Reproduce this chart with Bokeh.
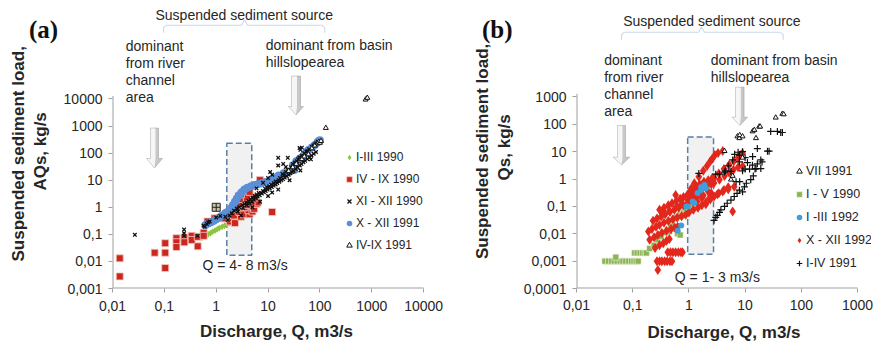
import math
from bokeh.plotting import figure
from bokeh.layouts import row
from bokeh.models import Range1d, FixedTicker, Label, PolyAnnotation, Legend, LegendItem
from bokeh.embed import file_html
from bokeh.resources import INLINE

SANS = "Liberation Sans"
SERIF = "Liberation Serif"
TXT = "#262626"
AXC = "#a0a0a0"

# ---------------- panel (a) data ----------------
a_x_ticks = [0.01, 0.1, 1, 10, 100, 1000, 10000]
a_x_labels = ["0,01", "0,1", "1", "10", "100", "1000", "10000"]
a_y_ticks = [0.001, 0.01, 0.1, 1, 10, 100, 1000, 10000]
a_y_labels = ["0,001", "0,01", "0,1", "1", "10", "100", "1000", "10000"]

a_series = ["I-III 1990", "IV - IX 1990", "XI - XII 1990", "X - XII 1991", "IV-IX 1991"]

a_green_q = [0.53, 0.58, 0.63, 0.7, 0.77, 0.85, 0.95, 1.05, 1.15, 1.3, 1.45, 1.6, 1.8, 2.0, 2.3, 2.6, 3.0, 3.5, 4.1, 4.8]
a_green_s = [0.075, 0.082, 0.09, 0.1, 0.11, 0.125, 0.14, 0.155, 0.17, 0.19, 0.21, 0.23, 0.26, 0.29, 0.33, 0.37, 0.43, 0.5, 0.56, 0.62]

a_red_q = [0.0138, 0.0138, 0.065, 0.104, 0.104, 0.104, 0.171, 0.171, 0.171, 0.243,
           0.243, 0.337, 0.337, 0.44, 0.44, 0.573, 0.573, 0.68, 0.93, 1.37,
           1.49, 1.85, 2.0, 2.3, 2.2, 3.0, 2.3, 2.8, 3.35, 4.4,
           4.2, 5.0, 3.5, 5.2, 5.4, 6.0, 6.3, 4.8, 4.0, 3.6,
           2.5, 2.69, 2.69, 3.1, 3.9, 3.0, 5.6, 4.4, 6.97, 12.0]
a_red_s = [0.013, 0.0028, 0.021, 0.047, 0.021, 0.0057, 0.072, 0.051, 0.034, 0.076,
           0.051, 0.088, 0.062, 0.081, 0.036, 0.115, 0.088, 0.30, 0.39, 0.39,
           0.39, 0.30, 0.39, 0.26, 0.5, 0.45, 0.88, 0.67, 0.55, 0.55,
           0.78, 0.7, 1.0, 1.0, 0.88, 1.33, 1.5, 1.5, 1.2, 1.6,
           1.8, 1.33, 2.62, 2.0, 2.3, 3.0, 2.3, 3.7, 10.1, 0.67]

a_black_q = [0.027, 0.24, 0.24, 0.24, 0.44, 0.57, 0.6, 0.66, 0.7, 0.75,
             1.0, 1.2, 1.5, 1.67, 1.8, 2.0, 2.2, 2.5, 2.8, 3.0,
             3.2, 3.5, 3.8, 4.2, 4.6, 5.0, 5.0, 5.5, 6.0, 6.0,
             6.6, 7.0, 7.3, 8.0, 8.0, 8.8, 9.5, 10, 10, 10.5,
             11, 11.5, 12, 12, 13, 14, 15.7, 15.7, 15.7, 16,
             17, 19, 19.6, 20, 22, 22, 24, 24, 26, 28,
             30, 33, 36, 38, 40, 40.5, 42, 42, 45, 45,
             50, 55, 58, 62, 67, 70, 75, 80, 85, 91,
             2.6, 3.3, 3.9, 4.4, 4.9, 5.3, 5.8, 6.3, 6.9, 7.6,
             8.3, 9.0, 9.8, 10.8, 11.8, 12.8, 14, 15, 16.5, 18,
             19.5, 21, 23, 25, 27, 29, 31, 34, 37, 41,
             44, 48, 52, 57, 63, 69, 76, 84]
a_black_s = [0.096, 0.15, 0.088, 0.11, 0.088, 0.21, 0.19, 0.24, 0.28, 0.3,
             0.42, 0.48, 0.45, 0.34, 0.5, 0.6, 0.75, 0.9, 1.0, 0.5,
             1.2, 1.33, 1.5, 1.7, 2.0, 2.3, 1.0, 2.6, 3.0, 5.0,
             3.4, 1.6, 3.4, 4.0, 8.0, 4.8, 5.5, 2.6, 12, 6.0,
             20, 6.8, 3.5, 16, 7.7, 9, 4.5, 35, 67, 10,
             12, 17, 40, 15, 20, 31, 24, 67, 10, 30,
             40, 45, 50, 59, 70, 155, 23, 132, 80, 160,
             100, 115, 117, 140, 59, 170, 190, 210, 230, 263,
             0.7, 0.95, 1.2, 1.4, 1.6, 1.9, 2.2, 2.5, 2.8, 3.2,
             3.6, 4.0, 4.5, 5.0, 5.6, 6.3, 7.0, 7.8, 8.8, 10,
             11, 12.5, 14, 16, 18, 20, 22, 26, 30, 35,
             40, 46, 52, 60, 70, 82, 95, 110]

a_blue_q = [0.62, 0.7, 0.8, 0.9, 1.0, 1.15, 1.3, 1.5, 1.65, 1.9,
            2.1, 2.3, 2.5, 2.8, 3.1, 3.5, 4.0, 4.7, 5.5, 6.5,
            7.5, 9.0, 11, 13, 16, 20, 25, 32, 30, 35,
            40, 45, 50, 55, 60, 70, 80, 90, 95, 100]
a_blue_s = [0.22, 0.25, 0.28, 0.32, 0.36, 0.42, 0.5, 0.6, 0.67, 0.9,
            1.2, 1.6, 2.1, 2.8, 3.6, 4.5, 5.3, 6.0, 6.6, 7.2,
            7.8, 8.6, 10, 12, 15, 18, 21, 24, 35, 50,
            60, 70, 90, 110, 130, 160, 200, 250, 280, 300]

a_tri_q = [25, 30, 35, 45, 50, 60, 70, 80, 90, 95, 100, 105, 130, 760, 820]
a_tri_s = [22, 30, 40, 60, 75, 90, 150, 190, 230, 260, 240, 280, 850, 9500, 11000]

a_odd_q = [1.0]
a_odd_s = [1.0]

a_box_q = [1.6, 4.85]
a_box_s = [0.017, 230]

# ---------------- panel (b) data ----------------
b_x_ticks = [0.01, 0.1, 1, 10, 100, 1000]
b_x_labels = ["0,01", "0,1", "1", "10", "100", "1000"]
b_y_ticks = [0.0001, 0.001, 0.01, 0.1, 1, 10, 100, 1000]
b_y_labels = ["0,0001", "0,001", "0,01", "0,1", "1", "10", "100", "1000"]

b_series = ["VII 1991", "I - V 1990", "I -III 1992", "X - XII 1992", "I-IV 1991"]

b_tri_q = [4.3, 5.6, 6.0, 7.3, 7.9, 8.0, 9.0, 9.0, 13.6, 14.6, 15.6, 17.8, 18.5, 35, 46, 48.6]
b_tri_s = [10.5, 0.95, 1.3, 36, 31, 40, 36, 6.0, 55, 62, 31, 82, 82, 175, 240, 230]

b_green_q = [0.032, 0.037, 0.042, 0.047, 0.053, 0.06, 0.067, 0.075, 0.085, 0.095,
             0.105, 0.115, 0.125, 0.05, 0.108, 0.12, 0.135, 0.15, 0.165, 0.175,
             0.2, 0.24, 0.28, 0.32, 0.38, 0.42, 0.45, 0.48, 0.5, 0.55,
             0.55, 0.6, 0.63, 0.65, 0.7, 0.7, 0.75, 0.8, 0.85, 0.9,
             1.0, 1.1, 1.2, 1.4, 1.6, 1.9, 2.2, 2.5]
b_green_s = [0.001, 0.001, 0.001, 0.001, 0.001, 0.001, 0.001, 0.001, 0.001, 0.001,
             0.001, 0.001, 0.001, 0.0014, 0.002, 0.002, 0.002, 0.002, 0.002, 0.002,
             0.0029, 0.0038, 0.006, 0.008, 0.011, 0.0135, 0.012, 0.02, 0.03, 0.015,
             0.035, 0.04, 0.01, 0.042, 0.009, 0.05, 0.045, 0.06, 0.07, 0.085,
             0.1, 0.12, 0.15, 0.25, 0.35, 0.45, 0.6, 0.79]

b_blue_q = [0.63, 0.73, 0.9, 0.95, 1.17, 1.25, 1.43, 1.65, 1.65, 1.89, 2.0]
b_blue_s = [0.013, 0.02, 0.1, 0.1, 0.15, 0.134, 0.31, 0.4, 0.5, 0.6, 0.46]

b_red_q = [0.28,
           0.27, 0.3, 0.33, 0.37, 0.41, 0.46, 0.5,
           0.42, 0.47, 0.52, 0.58, 0.65, 0.72, 0.77,
           0.25, 0.3, 0.35, 0.4, 0.45,
           0.2, 0.24, 0.28, 0.33, 0.4, 0.48, 0.56, 0.63,
           0.19, 0.22, 0.26, 0.3, 0.36, 0.43, 0.52, 0.62, 0.74, 0.88,
           1.0, 1.2, 1.45, 1.7, 2.0, 2.4, 2.8, 3.4, 4.2, 5.0,
           0.34, 0.45, 0.6, 0.75, 0.95,
           0.3, 0.36, 0.43, 0.5, 0.6, 0.7, 0.8, 0.95, 1.1, 1.3,
           1.5, 1.8, 2.1, 2.5, 2.8, 3.5, 4.3, 5.2, 6.2, 7.5, 9.0,
           1.0, 1.1, 1.2, 1.3, 1.4, 1.6, 1.8, 1.0, 0.95, 1.5, 2.2, 2.5, 2.0, 1.2,
           1.25, 1.5, 1.8, 2.1, 2.4, 2.6, 2.9, 3.3, 4.0,
           2.8, 3.4, 4.2, 5.2, 6.3, 7.5, 8.4, 9.0,
           0.58, 6.0,
           3.2, 4.0, 5.0, 6.4,
           0.23, 0.27, 0.32, 0.38, 0.46, 0.55, 0.66, 0.8, 0.95, 1.15,
           1.1, 1.3, 1.55, 1.85, 2.2, 2.6, 1.05, 1.35, 1.7, 2.3]
b_red_s = [0.00047,
           0.001, 0.001, 0.001, 0.001, 0.001, 0.001, 0.001,
           0.0021, 0.0021, 0.0021, 0.0021, 0.0021, 0.0021, 0.0021,
           0.003, 0.0038, 0.0045, 0.0055, 0.0065,
           0.006, 0.0075, 0.009, 0.011, 0.013, 0.015, 0.017, 0.018,
           0.012, 0.015, 0.018, 0.021, 0.025, 0.029, 0.034, 0.039, 0.044, 0.05,
           0.06, 0.075, 0.09, 0.11, 0.14, 0.18, 0.23, 0.3, 0.4, 0.5,
           0.053, 0.07, 0.095, 0.125, 0.17,
           0.075, 0.09, 0.11, 0.13, 0.16, 0.19, 0.22, 0.27, 0.3, 0.36,
           0.42, 0.5, 0.58, 0.65, 0.72, 0.95, 1.3, 1.7, 2.2, 2.7, 2.9,
           0.3, 0.35, 0.28, 0.2, 0.15, 0.3, 0.25, 0.15, 0.25, 0.45, 0.35, 0.3, 0.12, 0.4,
           0.7, 1.2, 2.0, 3.0, 4.5, 5.5, 7.5, 9.0, 10.5,
           1.06, 1.6, 2.3, 3.3, 4.5, 6.0, 7.5, 8.8,
           0.26, 0.065,
           0.28, 0.35, 0.42, 0.52,
           0.03, 0.036, 0.043, 0.052, 0.062, 0.075, 0.09, 0.11, 0.13, 0.16,
           0.45, 0.55, 0.65, 0.8, 0.9, 1.1, 0.2, 0.22, 0.2, 0.2]

b_plus_q = [1.5, 2.8, 3.0, 3.2, 3.5, 3.7, 4.3, 4.8, 5.6, 6.4,
            7.2, 7.9, 9.0, 9.7, 10.5, 12.6, 8.0, 6.9, 14, 15.6,
            13.5, 16.5, 19, 20, 19, 13.6, 16.5, 25, 26.7, 28.5,
            37.5, 43, 46, 5.6, 4.3, 6.5, 7.5, 9.0, 7.9, 7.9,
            9.0, 10, 12, 15, 11, 10, 3.5, 4.5, 5.0, 6.0, 3.0]
b_plus_s = [1.6, 0.031, 0.04, 0.047, 0.06, 0.075, 0.1, 0.13, 0.17, 0.23,
            0.3, 0.39, 0.34, 0.52, 0.7, 0.95, 0.8, 0.8, 1.3, 2.4,
            3.2, 3.6, 2.4, 4.2, 5.0, 6.6, 13, 10.4, 10.4, 55,
            55, 50, 50, 1.9, 1.8, 8.0, 9.5, 10, 7.5, 4.2,
            2.0, 2.3, 2.3, 2.3, 4.0, 6.0, 1.5, 2.0, 3.0, 5.0, 1.5]

b_box_q = [0.95, 2.74]
b_box_s = [0.0018, 34]

# ---------------- page geometry (pixels; the Bokeh page starts at 0,0) ----------------
H = 355


def overrides(ticks, labels):
    return {float(t): l for t, l in zip(ticks, labels)}


def make_panel(fw, fh, borders, x0, ppd_x, y0, ppd_y, xt, xl, yt, yl, ystand, xstand):
    l, r, t, b = borders
    x1 = x0 * 10 ** (fw / ppd_x)
    y1 = y0 * 10 ** (fh / ppd_y)
    p = figure(width=l + fw + r, height=t + fh + b, x_axis_type="log", y_axis_type="log",
               x_range=Range1d(x0, x1), y_range=Range1d(y0, y1),
               output_backend="svg", toolbar_location=None,
               min_border_left=l, min_border_right=r, min_border_top=t, min_border_bottom=b)
    p.outline_line_color = None
    p.xgrid.visible = False
    p.ygrid.visible = False
    for ax in (p.xaxis[0], p.yaxis[0]):
        ax.axis_line_color = None
        ax.major_tick_line_color = AXC
        ax.major_tick_out = 4
        ax.major_tick_in = 0
        ax.minor_tick_line_color = None
        ax.major_label_text_font = SANS
        ax.major_label_text_font_size = "14px"
        ax.major_label_text_color = TXT
        ax.axis_label_text_font = SANS
        ax.axis_label_text_font_size = "17px"
        ax.axis_label_text_font_style = "bold"
        ax.axis_label_text_color = TXT
    p.xaxis.major_label_standoff = xstand[0]
    p.yaxis.major_label_standoff = ystand
    p.xaxis.ticker = FixedTicker(ticks=xt)
    p.xaxis.major_label_overrides = overrides(xt, xl)
    p.yaxis.ticker = FixedTicker(ticks=yt)
    p.yaxis.major_label_overrides = overrides(yt, yl)
    p.xaxis.axis_label = "Discharge, Q, m3/s"
    p.xaxis.axis_label_standoff = xstand[1]
    # axis lines limited to the labelled decades
    p.segment(x0=[x0], y0=[y0], x1=[x0], y1=[yt[-1] * 1.3], line_color=AXC, line_width=2)
    p.segment(x0=[x0], y0=[y0], x1=[xt[-1]], y1=[y0], line_color=AXC, line_width=2)
    return p


def scr(FL, FB, pts):
    return [X - FL for X, Y in pts], [FB - Y for X, Y in pts]


def add_arrow(p, FL, FB, xc, top, head_y, tip, sw, hw):
    pts = [(xc - sw, top), (xc + sw, top), (xc + sw, head_y), (xc + hw, head_y),
           (xc, tip), (xc - hw, head_y), (xc - sw, head_y)]
    xs, ys = scr(FL, FB, pts)
    p.add_layout(PolyAnnotation(xs=xs, ys=ys, xs_units="screen", ys_units="screen",
                                fill_color="#f6f6f6", fill_alpha=1, line_color=None))
    shade = [(xc + 1, top), (xc + sw, top), (xc + sw, head_y), (xc + hw, head_y),
             (xc, tip), (xc + 1, head_y)]
    xs2, ys2 = scr(FL, FB, shade)
    p.add_layout(PolyAnnotation(xs=xs2, ys=ys2, xs_units="screen", ys_units="screen",
                                fill_color="#bdbdbd", fill_alpha=0.8, line_color=None))
    p.add_layout(PolyAnnotation(xs=xs, ys=ys, xs_units="screen", ys_units="screen",
                                fill_alpha=0, line_color="#6e6e6e", line_width=1))


def add_brace(p, FL, FB, L, R, C, h, bot, peak):
    path = [(L, bot), (L, h + 2.5), (L + 3, h), (C - 3, h), (C, peak), (C + 3, h),
            (R - 3, h), (R, h + 2.5), (R, bot)]
    xs, ys = scr(FL, FB, path + path[::-1])
    p.add_layout(PolyAnnotation(xs=xs, ys=ys, xs_units="screen", ys_units="screen",
                                fill_alpha=0, line_color="#4f7fbf", line_width=1.1))


def add_text(p, FL, FB, X, Y, text, size="14px", font=SANS, style="normal", color=TXT,
             units="screen"):
    p.add_layout(Label(x=X - FL, y=FB - Y, x_units=units, y_units=units, text=text,
                       text_font=font, text_font_size=size, text_font_style=style,
                       text_color=color, text_baseline="alphabetic", text_align="left"))


# ================= left strips: panel letter + y-axis title =================
def side_strip(width, page_x0, letter, letter_x, lines):
    f = figure(width=width, height=H, x_range=Range1d(0, width), y_range=Range1d(0, H),
               x_axis_location=None, y_axis_location=None, min_border=0,
               output_backend="svg", toolbar_location=None)
    f.outline_line_color = None
    f.grid.visible = False
    add_text(f, page_x0, H, letter_x, 36, letter, size="25px", font=SERIF,
             style="bold", color="#111111", units="data")
    for txt, X, Y in lines:
        f.add_layout(Label(x=X - page_x0, y=H - Y, text=txt, angle=math.pi / 2,
                           text_font=SANS, text_font_size="17px", text_font_style="bold",
                           text_color=TXT, text_align="center", text_baseline="middle"))
    return f


yl_a = side_strip(60, 0, "(a)", 28.5, [("Suspended sediment load,", 18, 189), ("AQs, kg/s", 39.5, 186)])
yl_b = side_strip(74, 446, "(b)", 481.5, [("Suspended sediment load,", 481.5, 186), ("Qs, kg/s", 504, 181)])

# ================= panel (a): frame x 110..440, y 0..300 =================
FLa, FBa = 110, 300
pa = make_panel(330, 300, (50, 6, 0, 55), 0.01, 52.17, 0.001, 28.2,
                a_x_ticks, a_x_labels, a_y_ticks, a_y_labels, 6, (8, 8))

pa.quad(left=[a_box_q[0]], right=[a_box_q[1]], bottom=[a_box_s[0]], top=[a_box_s[1]],
        fill_color="#f1f1f1", line_color="#5b7fa8", line_dash="6 3", line_width=1.5)

ra_green = pa.scatter(a_green_q, a_green_s, marker="diamond", size=7, fill_color="#8cc63f", line_color=None)
ra_red = pa.scatter(a_red_q, a_red_s, marker="square", size=7, fill_color="#c8281e",
                    line_color="#f6c9c4", line_width=0.8)
ra_blue = pa.scatter(a_blue_q, a_blue_s, marker="circle", size=8, fill_color="#5b8fd6", line_color=None)
ra_black = pa.scatter(a_black_q, a_black_s, marker="x", size=5, line_color="#111111", line_width=1.3)
ra_tri = pa.scatter(a_tri_q, a_tri_s, marker="triangle", size=5, fill_color="white",
                    line_color="#111111", line_width=1)
pa.scatter(a_odd_q, a_odd_s, marker="square_cross", size=8, fill_color="#cbc3a2",
           line_color="#222222", line_width=1)

leg_a = Legend(items=[LegendItem(label=a_series[0], renderers=[ra_green]),
                      LegendItem(label=a_series[1], renderers=[ra_red]),
                      LegendItem(label=a_series[2], renderers=[ra_black]),
                      LegendItem(label=a_series[3], renderers=[ra_blue]),
                      LegendItem(label=a_series[4], renderers=[ra_tri])],
               location=(230, 36), glyph_width=14, glyph_height=14, label_height=14,
               spacing=8, padding=0, margin=0, label_standoff=0,
               border_line_color=None, background_fill_alpha=0,
               label_text_font=SANS, label_text_font_size="12px", label_text_color=TXT)
pa.add_layout(leg_a)

add_brace(pa, FLa, FBa, 161, 322.3, 242, 36.7, 44.3, 31.2)
add_text(pa, FLa, FBa, 153, 26.7, "Suspended sediment source")
add_arrow(pa, FLa, FBa, 152, 139.5, 170, 179.5, 4, 8)
add_arrow(pa, FLa, FBa, 293.5, 87.5, 118, 126.5, 4.5, 7.5)
for txt, yb in zip(["dominant", "from river", "channel", "area"], [57.7, 74.5, 91.3, 108]):
    add_text(pa, FLa, FBa, 123.3, yb, txt)
add_text(pa, FLa, FBa, 263.3, 56.7, "dominant from basin")
add_text(pa, FLa, FBa, 263.3, 73.3, "hillslopearea")
add_text(pa, FLa, FBa, 200, 276.7, "Q = 4- 8 m3/s")

# ================= panel (b): frame x 575..871, y 0..288 =================
FLb, FBb = 575, 288
pb = make_panel(296, 288, (55, 8, 0, 67), 0.01, 56.4, 0.0001, 27.37,
                b_x_ticks, b_x_labels, b_y_ticks, b_y_labels, 6, (7, 10))

pb.quad(left=[b_box_q[0]], right=[b_box_q[1]], bottom=[b_box_s[0]], top=[b_box_s[1]],
        fill_color="#f1f1f1", line_color="#5b7fa8", line_dash="6 3", line_width=1.5)

rb_green = pb.scatter(b_green_q, b_green_s, marker="square", size=6, fill_color="#8db356",
                      line_color="#eef5e2", line_width=0.6)
rb_red = pb.scatter(b_red_q, b_red_s, marker="diamond", size=10, fill_color="#e2281d", line_color=None)
rb_blue = pb.scatter(b_blue_q, b_blue_s, marker="circle", size=6, fill_color="#3d9fdc", line_color=None)
rb_plus = pb.scatter(b_plus_q, b_plus_s, marker="cross", size=7, line_color="#111111", line_width=1.2)
rb_tri = pb.scatter(b_tri_q, b_tri_s, marker="triangle", size=5, fill_color="white",
                    line_color="#111111", line_width=1)

leg_b = Legend(items=[LegendItem(label=b_series[0], renderers=[rb_tri]),
                      LegendItem(label=b_series[1], renderers=[rb_green]),
                      LegendItem(label=b_series[2], renderers=[rb_blue]),
                      LegendItem(label=b_series[3], renderers=[rb_red]),
                      LegendItem(label=b_series[4], renderers=[rb_plus])],
               location=(216, 18), glyph_width=14, glyph_height=14, label_height=14,
               spacing=9, padding=0, margin=0, label_standoff=0,
               border_line_color=None, background_fill_alpha=0,
               label_text_font=SANS, label_text_font_size="12.5px", label_text_color=TXT)
pb.add_layout(leg_b)

add_brace(pb, FLb, FBb, 620, 781.7, 700, 31.7, 39.3, 26.5)
add_text(pb, FLb, FBb, 621.7, 20.7, "Suspended sediment source")
add_arrow(pb, FLb, FBb, 620, 125, 156.7, 164.5, 4, 8.3)
add_arrow(pb, FLb, FBb, 738.3, 86.7, 116.7, 125, 4.3, 7.8)
for txt, yb in zip(["dominant", "from river", "channel", "area"], [59.3, 76.3, 93.6, 110.8]):
    add_text(pb, FLb, FBb, 602.7, yb, txt)
add_text(pb, FLb, FBb, 709.3, 59.3, "dominant from basin")
add_text(pb, FLb, FBb, 709.3, 76, "hillslopearea")
add_text(pb, FLb, FBb, 673.3, 276, "Q = 1- 3 m3/s")

layout = row(yl_a, pa, yl_b, pb)
open("out.html", "w").write(file_html(layout, INLINE))
